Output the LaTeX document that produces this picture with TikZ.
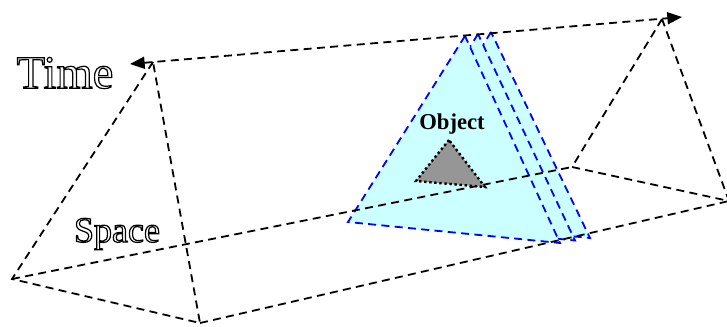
\documentclass[tikz,border=0pt]{standalone}
\usepackage{fontspec}
\setmainfont{Liberation Serif}
\usetikzlibrary{arrows.meta,calc}
\definecolor{slicecolor}{RGB}{204,255,255}
\definecolor{slicedge}{RGB}{0,0,255}
\definecolor{objcolor}{RGB}{150,150,150}
% hollow letters: stroke the glyph outlines only
\newcommand{\hollowtext}[1]{\special{pdf:literal direct 1 Tr 0.9 w}#1\special{pdf:literal direct 0 Tr}}

\begin{document}
\begin{tikzpicture}[x=0.75pt, y=-0.75pt,
  edge/.style={draw, line width=1.35pt, dash pattern=on 6pt off 4pt},
  slice/.style={fill=slicecolor, draw=slicedge, line width=1.35pt,
                dash pattern=on 6pt off 4pt},
  obj/.style={fill=objcolor, draw=black, line width=1.8pt, dotted},
  arr/.style={{Triangle[length=11pt,width=9pt]}-{Triangle[length=11pt,width=9pt]}},
  lab/.style={inner sep=0pt, font=\fontsize{35}{35}\selectfont}
]
\useasboundingbox (0,0) rectangle (727,326);

% prism corners
\coordinate (aL) at (153,62);
\coordinate (bL) at (12,279);
\coordinate (cL) at (200,323);
\coordinate (aR) at (662,19);
\coordinate (bR) at (572,167);
\coordinate (cR) at (729,201);
\coordinate (tipL) at (130,64);
\coordinate (tipR) at (682,17);

% time slices, back to front
\coordinate (sa) at (465,36);
\coordinate (sb) at (348,222);
\coordinate (sc) at (560,243);
\foreach \k in {2,1,0}
  \draw[slice] ($(sa)+(\k*13,-\k*2)$) -- ($(sb)+(\k*15,-\k*2.5)$)
    -- ($(sc)+(\k*15,-\k*2.5)$) -- cycle;

% prism
\draw[edge] (aL) -- (bL) -- (cL) -- (aL);
\draw[edge] (aR) -- (bR) -- (cR) -- (aR);
\draw[edge, arr] (tipL) -- (tipR);
\draw[edge] (bL) -- (bR);
\draw[edge] (cL) -- (cR);

% object
\coordinate (oa) at (449,140);
\coordinate (ob) at (416,181);
\coordinate (oc) at (485,187);
\draw[obj] (oa) -- (ob) -- (oc) -- cycle;

\node[inner sep=0pt, font=\fontsize{17}{17}\selectfont\bfseries] (object)
  at (452,124) {Object};
\node[lab] (time) at (65,73) {\hollowtext{Time}};
\node[lab, font=\fontsize{27}{27}\selectfont] (space) at (117,234)
  {\hollowtext{Space}};

\end{tikzpicture}
\end{document}
